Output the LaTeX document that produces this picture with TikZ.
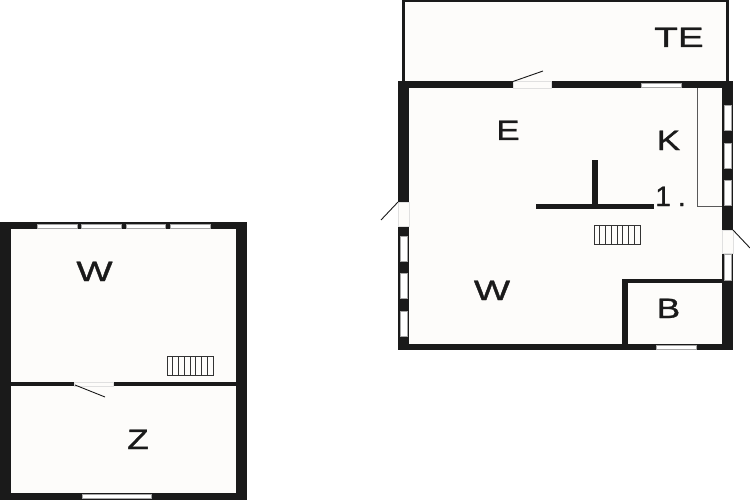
\documentclass[tikz,border=0pt]{standalone}
\usepackage{fontspec}
\setmainfont[FakeBold=1]{Liberation Sans}
\definecolor{wallc}{HTML}{1A1A1A}
\definecolor{floorc}{HTML}{FDFCFA}
\tikzset{
  wall/.style={fill=wallc,draw=none},
  floorarea/.style={fill=floorc,draw=none},
  glass/.style={fill=white,draw=gray!70,line width=0.5pt},
  opening/.style={fill=floorc,draw=black!12,line width=0.5pt},
  leaf/.style={draw=wallc,line width=0.9pt},
  thinline/.style={draw=black!65,line width=1pt},
  treads/.style={draw=black!80,line width=0.9pt},
  lblbase/.style={anchor=base,inner sep=0pt,text=wallc,font=\fontsize{28}{28}\selectfont,transform shape},
  lbl/.style={lblbase,xscale=1.25},
  lbltwo/.style={lblbase,xscale=1.38},
  lblwide/.style={lblbase,xscale=1.37},
  lblnum/.style={lblbase,xscale=1.0}
}
\newcommand{\stairs}[2]{%
  \draw[treads] (#1,#2) rectangle ++(46,19);
  \foreach \k in {1,...,7}{\draw[treads] ({#1+\k*5.75},#2) -- ++(0,19);}
}
\begin{document}
\begin{tikzpicture}[x=1pt,y=-1pt]
\useasboundingbox (0,0) rectangle (750,500);
\fill[white] (0,0) rectangle (750,500);
% ---- right building: terrace
\fill[floorarea] (402,0) rectangle (729,82);
\draw[wallc,line width=2.6pt] (403.5,82) -- (403.5,1.2) -- (727.7,1.2) -- (727.7,82);
% ---- right building: walls
\fill[wall] (398,81.5) rectangle (733,350);
\fill[floorarea] (409,88) rectangle (722,343.5);
% door top
\path[opening] (513,81.5) rectangle (551,88);
\coordinate (dt) at (513,81.5); \coordinate (dte) at (543,71);
\draw[leaf] (dt) -- (dte);
% window top
\path[glass] (641,83) rectangle (681,87);
% right windows
\path[glass] (724,105) rectangle (731,130);
\path[glass] (724,143) rectangle (731,168);
\path[glass] (724,180) rectangle (731,205);
\path[glass] (724,254) rectangle (731,280);
% right door
\path[opening] (722,230) rectangle (733,253);
\coordinate (dr) at (733,230); \coordinate (dre) at (750,248);
\draw[leaf] (dr) -- (dre);
% left door
\path[opening] (398,202) rectangle (409,226);
\coordinate (dl) at (398,202); \coordinate (dle) at (381,220);
\draw[leaf] (dl) -- (dle);
% left windows
\path[glass] (400,236) rectangle (407,261);
\path[glass] (400,273) rectangle (407,298);
\path[glass] (400,311) rectangle (407,336);
% kitchen line
\draw[thinline] (697.7,88) -- (697.7,206.8) -- (722,206.8);
% central walls
\fill[wall] (592,160) rectangle (598,208);
\fill[wall] (536,204.3) rectangle (654,208.5);
% bathroom
\fill[wall] (622,279) rectangle (722,283);
\fill[wall] (622,279) rectangle (628,343.5);
\path[glass] (656,345) rectangle (696,349);
\stairs{594}{225}
% ---- left building
\fill[wall] (0,222) rectangle (247,500);
\fill[floorarea] (11,229) rectangle (236,493);
\path[glass] (37,224) rectangle (77,228);
\path[glass] (81,224) rectangle (121,228);
\path[glass] (126,224) rectangle (165,228);
\path[glass] (170,224) rectangle (210,228);
\fill[wall] (11,382) rectangle (236,386);
\path[opening] (74,382) rectangle (113,386);
\coordinate (dz) at (75,385); \coordinate (dze) at (105,397);
\draw[leaf] (dz) -- (dze);
\path[glass] (82,494) rectangle (151,498);
\stairs{167}{356}
% ---- labels
\node[lbltwo] (te) at (679,47) {TE};
\node[lbl] (e) at (508,140) {E};
\node[lbl] (k) at (668.5,150) {K};
\node[lblnum] (one) at (670.5,206) {1\hspace{7pt}.};
\node[lblwide] (w2) at (492,300) {W};
\node[lbl] (b) at (668.5,318) {B};
\node[lblwide] (w1) at (94.5,281) {W};
\node[lbl] (z) at (138,449) {Z};
\end{tikzpicture}
\end{document}
